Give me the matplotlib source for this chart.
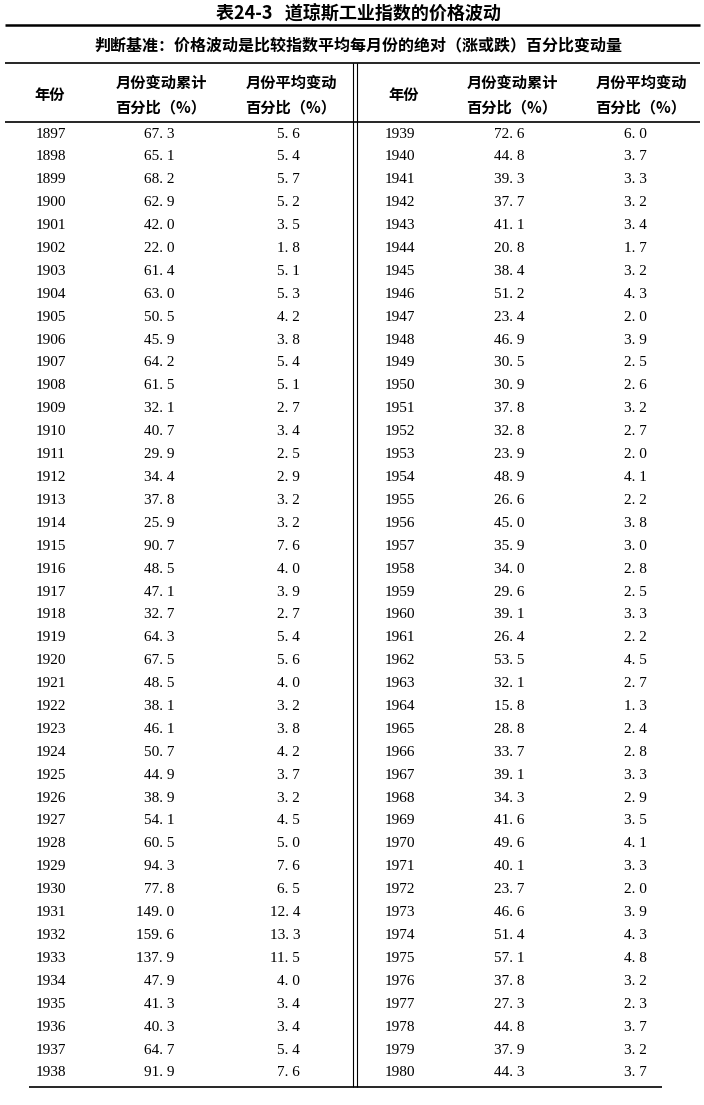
import matplotlib.pyplot as plt

plt.rcParams['font.family'] = ['Noto Sans CJK SC', 'DejaVu Sans']

title = '表24-3   道琼斯工业指数的价格波动'
subtitle = '判断基准：价格波动是比较指数平均每月份的绝对（涨或跌）百分比变动量'
header_year = '年份'
header_cum = '月份变动累计\n百分比（%）'
header_avg = '月份平均变动\n百分比（%）'

years_left = list(range(1897, 1939))
cum_left = [67.3, 65.1, 68.2, 62.9, 42.0, 22.0, 61.4, 63.0, 50.5, 45.9,
            64.2, 61.5, 32.1, 40.7, 29.9, 34.4, 37.8, 25.9, 90.7, 48.5,
            47.1, 32.7, 64.3, 67.5, 48.5, 38.1, 46.1, 50.7, 44.9, 38.9,
            54.1, 60.5, 94.3, 77.8, 149.0, 159.6, 137.9, 47.9, 41.3, 40.3,
            64.7, 91.9]
avg_left = [5.6, 5.4, 5.7, 5.2, 3.5, 1.8, 5.1, 5.3, 4.2, 3.8,
            5.4, 5.1, 2.7, 3.4, 2.5, 2.9, 3.2, 3.2, 7.6, 4.0,
            3.9, 2.7, 5.4, 5.6, 4.0, 3.2, 3.8, 4.2, 3.7, 3.2,
            4.5, 5.0, 7.6, 6.5, 12.4, 13.3, 11.5, 4.0, 3.4, 3.4,
            5.4, 7.6]

years_right = list(range(1939, 1981))
cum_right = [72.6, 44.8, 39.3, 37.7, 41.1, 20.8, 38.4, 51.2, 23.4, 46.9,
             30.5, 30.9, 37.8, 32.8, 23.9, 48.9, 26.6, 45.0, 35.9, 34.0,
             29.6, 39.1, 26.4, 53.5, 32.1, 15.8, 28.8, 33.7, 39.1, 34.3,
             41.6, 49.6, 40.1, 23.7, 46.6, 51.4, 57.1, 37.8, 27.3, 44.8,
             37.9, 44.3]
avg_right = [6.0, 3.7, 3.3, 3.2, 3.4, 1.7, 3.2, 4.3, 2.0, 3.9,
             2.5, 2.6, 3.2, 2.7, 2.0, 4.1, 2.2, 3.8, 3.0, 2.8,
             2.5, 3.3, 2.2, 4.5, 2.7, 1.3, 2.4, 2.8, 3.3, 2.9,
             3.5, 4.1, 3.3, 2.0, 3.9, 4.3, 4.8, 3.2, 2.3, 3.7,
             3.2, 3.7]


def fmt(v):
    # the printed table puts a small gap after the decimal point
    return f'{v:.1f}'.replace('.', '. ')


fig = plt.figure(figsize=(7.04, 11.05), dpi=100)
ax = fig.add_axes([0, 0, 1, 1])
ax.set_xlim(0, 704)
ax.set_ylim(1105, 0)
ax.axis('off')

ax.text(358, 13, title, ha='center', va='center', fontsize=13, fontweight='bold')
ax.hlines(25, 5, 700, color='black', lw=1.8)
ax.text(358, 45, subtitle, ha='center', va='center', fontsize=11.5, fontweight='bold')
ax.hlines(63, 5, 700, color='black', lw=1.2)
ax.hlines(122, 5, 700, color='black', lw=1.2)
ax.hlines(1087, 29, 662, color='black', lw=1.2)
ax.vlines([353, 356.5], 63, 1087, color='black', lw=0.8)

# header and body for the two halves of the table
halves = [
    (50, 161, 291, 36, 174, 300, years_left, cum_left, avg_left),
    (404, 512, 641, 385, 524, 647, years_right, cum_right, avg_right),
]
row_top = 134
row_step = 22.9
for hx_year, hx_cum, hx_avg, x_year, x_cum, x_avg, yrs, cum, avg in halves:
    ax.text(hx_year, 95, header_year, ha='center', va='center', fontsize=11, fontweight='bold')
    for hx, lab in [(hx_cum, header_cum), (hx_avg, header_avg)]:
        ax.text(hx, 95, lab, ha='center', va='center', fontsize=11, fontweight='bold',
                linespacing=1.7, multialignment='center')
    for i, (yr, c, a) in enumerate(zip(yrs, cum, avg)):
        y = row_top + i * row_step
        ax.text(x_year, y, str(yr), ha='left', va='center', fontsize=11,
                family='Liberation Serif')
        ax.text(x_cum, y, fmt(c), ha='right', va='center', fontsize=11,
                family='Liberation Serif')
        ax.text(x_avg, y, fmt(a), ha='right', va='center', fontsize=11,
                family='Liberation Serif')

fig.savefig('out.png', dpi=100)
